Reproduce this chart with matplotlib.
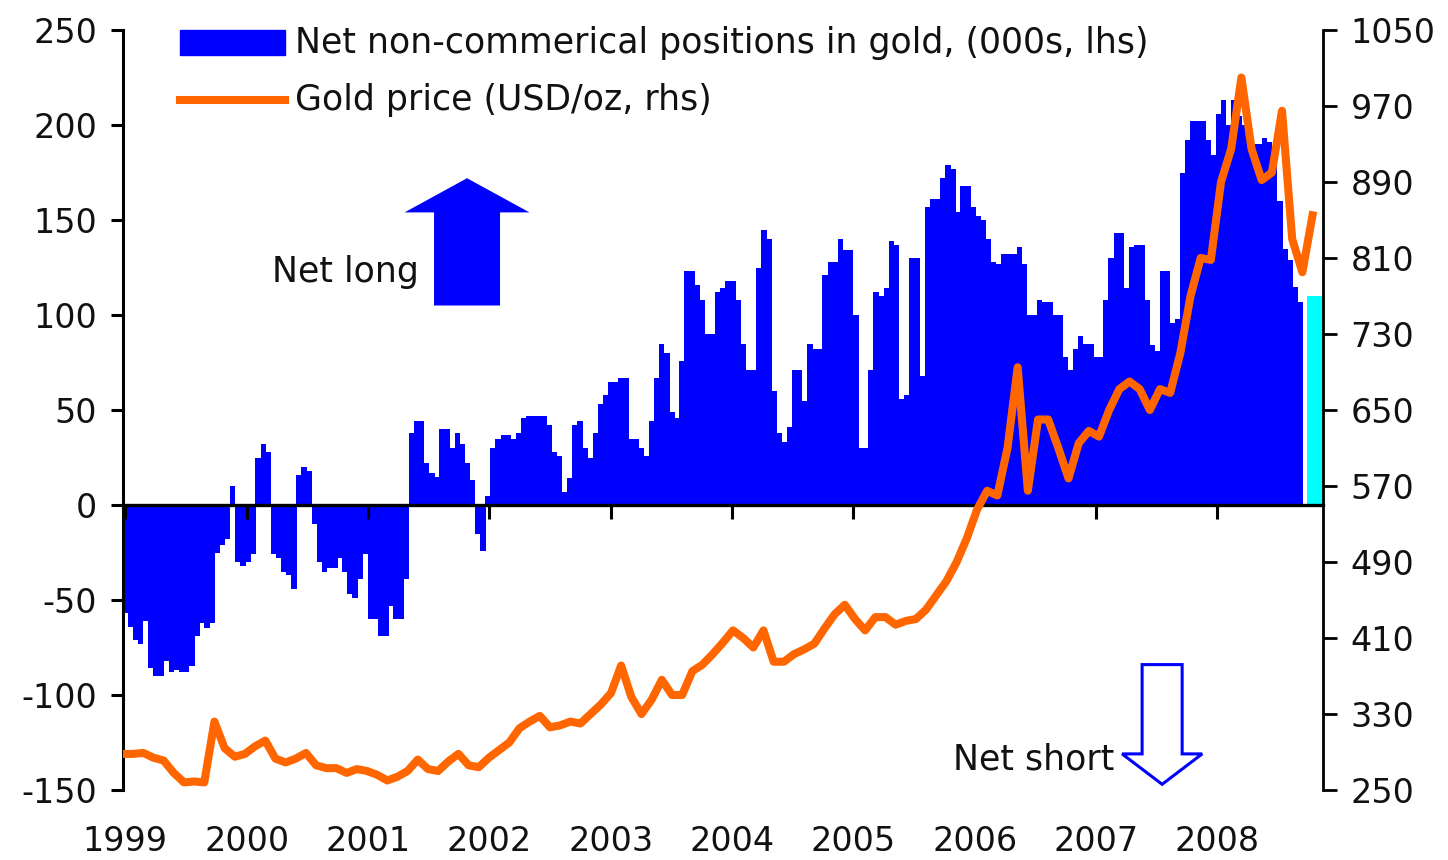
import numpy as np
import matplotlib.pyplot as plt
import matplotlib.patches as mpatches
from matplotlib.lines import Line2D

plt.rcParams['axes.unicode_minus'] = False

# net non-commercial positions in gold (000s), roughly half-monthly from Jan 1999
net_pos = [-57, -64, -71, -73, -61, -86, -90, -90, -82, -88,
           -87, -88, -88, -85, -69, -62, -65, -62, -25, -21,
           -18, 10, -30, -32, -30, -26, 25, 32, 28, -26,
           -28, -35, -37, -44, 16, 20, 18, -10, -30, -35,
           -33, -33, -28, -35, -47, -49, -39, -26, -60, -60,
           -69, -69, -53, -60, -60, -39, 38, 44, 44, 22,
           17, 15, 40, 40, 30, 38, 32, 22, 13, -15,
           -24, 5, 30, 35, 37, 37, 35, 38, 46, 47,
           47, 47, 47, 42, 28, 26, 7, 14, 42, 44,
           30, 25, 38, 53, 58, 65, 65, 67, 67, 35,
           35, 30, 26, 44, 67, 85, 80, 49, 46, 76,
           123, 123, 116, 108, 90, 90, 112, 114, 118, 118,
           108, 85, 71, 71, 125, 145, 140, 60, 38, 33,
           41, 71, 71, 55, 85, 82, 82, 121, 128, 128,
           140, 134, 134, 100, 30, 30, 71, 112, 110, 114,
           139, 137, 56, 58, 130, 130, 68, 157, 161, 161,
           172, 179, 177, 154, 168, 168, 157, 152, 150, 140,
           128, 127, 132, 132, 132, 136, 127, 100, 100, 108,
           107, 107, 100, 100, 78, 71, 82, 89, 85, 85,
           78, 78, 108, 130, 143, 143, 114, 136, 137, 137,
           108, 84, 81, 123, 123, 96, 98, 175, 192, 202,
           202, 202, 192, 184, 206, 213, 200, 213, 205, 200,
           195, 190, 190, 193, 191, 185, 160, 135, 129, 115,
           107]
pos_start, pos_step = 1999.0, 0.0421

# latest reading, highlighted
last_pos = 110
last_date, last_width = 2008.80, 0.13

# gold price USD/oz, roughly monthly from Jan 1999
gold = [288, 288, 289, 284, 281, 268, 258, 259, 258, 322,
        294, 285, 288, 296, 302, 283, 279, 283, 289, 276,
        273, 273, 268, 272, 270, 266, 260, 264, 270, 282,
        272, 270, 280, 288, 276, 274, 284, 292, 300, 315,
        322, 328, 316, 318, 322, 320, 330, 340, 352, 381,
        348, 330, 345, 366, 350, 350, 375, 382, 393, 405,
        418, 410, 400, 418, 385, 385, 393, 398, 404, 420,
        435, 445, 430, 418, 432, 432, 424, 428, 430, 440,
        455, 470, 490, 515, 545, 565, 560, 610, 695, 565,
        640, 640, 610, 578, 615, 628, 622, 650, 672, 680,
        672, 650, 672, 668, 710, 770, 810, 808, 890, 925,
        1000, 925, 892, 900, 965, 830, 795, 855]
gold_start, gold_step = 1998.98, 0.0838

years = list(range(1999, 2009))

pos_x = pos_start + pos_step * np.arange(len(net_pos))
gold_x = gold_start + gold_step * np.arange(len(gold))

txt = '#111111'
fs = 24

fig = plt.figure(figsize=(14.48, 8.6), dpi=100)
ax = fig.add_axes([0.0849, 0.0814, 0.8287, 0.8837])
ax2 = ax.twinx()

ax.bar(pos_x, net_pos, width=pos_step * 1.08, color='#0000FF', linewidth=0,
       antialiased=False, zorder=1)
ax.bar([last_date], [last_pos], width=last_width, color='#00FFFF', linewidth=0,
       antialiased=False, zorder=1)

ax2.plot(gold_x, gold, color='#FF6600', lw=5.8, solid_joinstyle='round')

ax.set_xlim(1998.98, 2008.87)
ax.set_ylim(-150, 250)
ax.set_yticks(range(-150, 251, 50))
ax2.set_ylim(250, 1050)
ax2.set_yticks(range(250, 1051, 80))

for s in ['top', 'right']:
    ax.spines[s].set_visible(False)
for s in ['top', 'left', 'bottom']:
    ax2.spines[s].set_visible(False)
ax.spines['bottom'].set_position(('data', 0))
ax.spines['bottom'].set_linewidth(2.4)
ax.spines['left'].set_linewidth(2.2)
ax2.spines['right'].set_linewidth(2.0)

ax.set_xticks(years)
ax.tick_params(axis='x', direction='out', length=10, width=2.2, labelbottom=False)
ax.tick_params(axis='y', direction='out', length=8.5, width=2.2, pad=10,
               labelsize=fs, labelcolor=txt)
ax2.tick_params(axis='y', direction='out', length=10, width=2.0, pad=10,
                labelsize=fs, labelcolor=txt)

for y in years:
    ax.text(y, -0.046, str(y), transform=ax.get_xaxis_transform(),
            ha='center', va='top', fontsize=fs, color=txt)

# arrows
up = mpatches.FancyArrow(2001.816, 105, 0, 67, width=0.544, head_width=1.03,
                         head_length=18, length_includes_head=True,
                         color='#0000FF', lw=0, zorder=3)
ax.add_patch(up)
down = mpatches.FancyArrow(2007.545, -84, 0, -63, width=0.33, head_width=0.66,
                           head_length=16, length_includes_head=True,
                           facecolor='white', edgecolor='#0000FF', lw=2.2, zorder=3)
ax.add_patch(down)
ax.text(2000.208, 122.6, 'Net long', ha='left', va='center', fontsize=fs + 1, color=txt)
ax.text(2005.82, -134, 'Net short', ha='left', va='center', fontsize=fs + 1, color=txt)

# legend drawn in figure coords
W, H = 1448, 860
fig.add_artist(mpatches.Rectangle((180 / W, 1 - 55 / H), 105 / W, 25 / H,
                                  transform=fig.transFigure, color='#0000FF'))
fig.add_artist(Line2D([180 / W, 285 / W], [1 - 100 / H, 1 - 100 / H],
                      transform=fig.transFigure, color='#FF6600', lw=5.8))
fig.text(295 / W, 1 - 43 / H, 'Net non-commerical positions in gold, (000s, lhs)',
         ha='left', va='center', fontsize=fs + 1, color=txt)
fig.text(295 / W, 1 - 100 / H, 'Gold price (USD/oz, rhs)',
         ha='left', va='center', fontsize=fs + 1, color=txt)

plt.savefig('out.png', dpi=100)
